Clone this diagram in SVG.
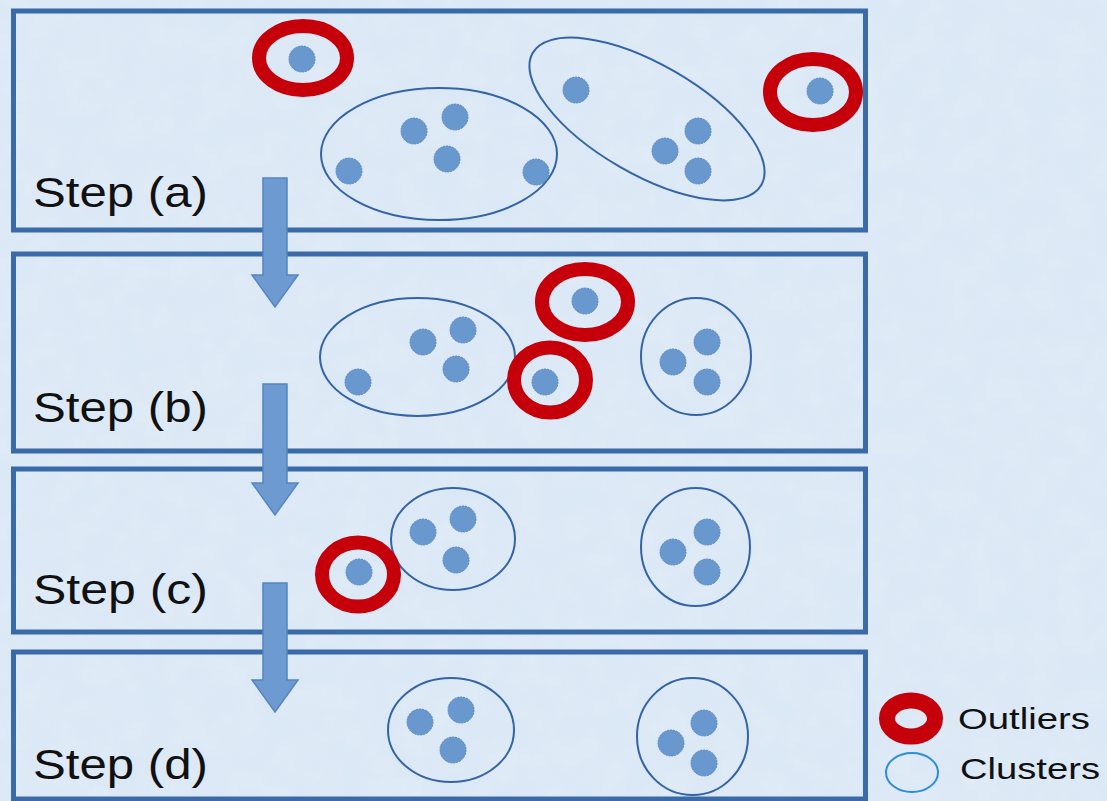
<svg xmlns="http://www.w3.org/2000/svg" width="1107" height="801" viewBox="0 0 1107 801">
<defs>
<filter id="tex" x="0" y="0" width="100%" height="100%">
<feTurbulence type="fractalNoise" baseFrequency="0.035" numOctaves="3" seed="7" result="n"/>
<feColorMatrix in="n" type="matrix" values="0 0 0 0 0.80  0 0 0 0 0.87  0 0 0 0 0.95  0 0 0 1.1 -0.35"/>
</filter>
<style>
.panel{fill:none;stroke:#3b6aa9;stroke-width:5}
.cl{fill:none;stroke:#3464a6;stroke-width:2}
.out{fill:none;stroke:#c6000b;stroke-width:14}
.dot{fill:#6898cd;stroke:#5a86bf;stroke-width:1;stroke-dasharray:2 1}
.arr{fill:#6d9bd1;stroke:#5684c2;stroke-width:1.5}
.lbl{font-family:"Liberation Sans",Arial,sans-serif;font-size:42px;fill:#111}
.leg{font-family:"Liberation Sans",Arial,sans-serif;font-size:29px;fill:#111}
</style>
</defs>
<rect width="1107" height="801" fill="#dbe8f5"/>
<rect width="1107" height="801" filter="url(#tex)" opacity="0.6"/>

<g id="panel-a">
<rect class="panel" x="13.5" y="11" width="852" height="219"/>
<text class="lbl" x="33" y="207" textLength="175" lengthAdjust="spacingAndGlyphs">Step (a)</text>
<ellipse class="cl" cx="439" cy="154" rx="118" ry="66"/>
<ellipse class="cl" cx="647" cy="119" rx="132" ry="55" transform="rotate(30 647 119)"/>
<ellipse class="out" cx="303" cy="58" rx="44" ry="32"/>
<ellipse class="out" cx="813" cy="92" rx="43" ry="33"/>
<circle class="dot" cx="302" cy="59" r="13"/>
<circle class="dot" cx="820" cy="91" r="13"/>
<circle class="dot" cx="349" cy="171" r="13"/>
<circle class="dot" cx="414" cy="131" r="13"/>
<circle class="dot" cx="455" cy="117" r="13"/>
<circle class="dot" cx="447" cy="159" r="13"/>
<circle class="dot" cx="536" cy="172" r="13"/>
<circle class="dot" cx="576" cy="90" r="13"/>
<circle class="dot" cx="698" cy="131" r="13"/>
<circle class="dot" cx="665" cy="151" r="13"/>
<circle class="dot" cx="698" cy="171" r="13"/>
</g>

<g id="panel-b">
<rect class="panel" x="13.5" y="254" width="852" height="197"/>
<text class="lbl" x="33" y="422" textLength="175" lengthAdjust="spacingAndGlyphs">Step (b)</text>
<ellipse class="cl" cx="417.5" cy="357" rx="97.5" ry="59"/>
<ellipse class="cl" cx="696" cy="356.5" rx="55" ry="58.5"/>
<ellipse class="out" cx="585" cy="302" rx="43" ry="33"/>
<ellipse class="out" cx="550" cy="380" rx="36" ry="32.5"/>
<circle class="dot" cx="585" cy="301" r="13"/>
<circle class="dot" cx="545" cy="382" r="13"/>
<circle class="dot" cx="358" cy="382" r="13"/>
<circle class="dot" cx="423" cy="342" r="13"/>
<circle class="dot" cx="463" cy="330" r="13"/>
<circle class="dot" cx="456" cy="369" r="13"/>
<circle class="dot" cx="673" cy="362" r="13"/>
<circle class="dot" cx="707" cy="342" r="13"/>
<circle class="dot" cx="707" cy="382" r="13"/>
</g>

<g id="panel-c">
<rect class="panel" x="13.5" y="469" width="852" height="163"/>
<text class="lbl" x="33" y="604" textLength="175" lengthAdjust="spacingAndGlyphs">Step (c)</text>
<ellipse class="cl" cx="453" cy="539" rx="62" ry="51"/>
<ellipse class="cl" cx="695.5" cy="547" rx="54.5" ry="59"/>
<ellipse class="out" cx="358" cy="574.5" rx="36" ry="32"/>
<circle class="dot" cx="359" cy="572" r="13"/>
<circle class="dot" cx="423" cy="532" r="13"/>
<circle class="dot" cx="463" cy="519" r="13"/>
<circle class="dot" cx="456" cy="560" r="13"/>
<circle class="dot" cx="673" cy="552" r="13"/>
<circle class="dot" cx="707" cy="532" r="13"/>
<circle class="dot" cx="707" cy="572" r="13"/>
</g>

<g id="panel-d">
<rect class="panel" x="13.5" y="652" width="852" height="147"/>
<text class="lbl" x="33" y="779" textLength="175" lengthAdjust="spacingAndGlyphs">Step (d)</text>
<ellipse class="cl" cx="451" cy="730" rx="63" ry="52"/>
<ellipse class="cl" cx="692.5" cy="736.5" rx="55.5" ry="58.5"/>
<circle class="dot" cx="420" cy="722" r="13"/>
<circle class="dot" cx="461" cy="710" r="13"/>
<circle class="dot" cx="453" cy="750" r="13"/>
<circle class="dot" cx="671" cy="743" r="13"/>
<circle class="dot" cx="704" cy="723" r="13"/>
<circle class="dot" cx="704" cy="763" r="13"/>
</g>

<g id="connectors">
<path class="arr" d="M263 178 H287 V275 H298 L275 307 L252 275 H263 Z"/>
<path class="arr" d="M263 384 H287 V483 H298 L275 515 L252 483 H263 Z"/>
<path class="arr" d="M263 583 H287 V680 H298 L275 712 L252 680 H263 Z"/>
</g>

<g id="legend">
<ellipse cx="911" cy="718.5" rx="24" ry="18" fill="none" stroke="#c6000b" stroke-width="16"/>
<ellipse cx="912" cy="772.5" rx="26" ry="19.5" fill="none" stroke="#2a8fd8" stroke-width="2"/>
<text class="leg" x="958" y="729" textLength="132" lengthAdjust="spacingAndGlyphs">Outliers</text>
<text class="leg" x="960" y="779" textLength="140" lengthAdjust="spacingAndGlyphs">Clusters</text>
</g>
</svg>
